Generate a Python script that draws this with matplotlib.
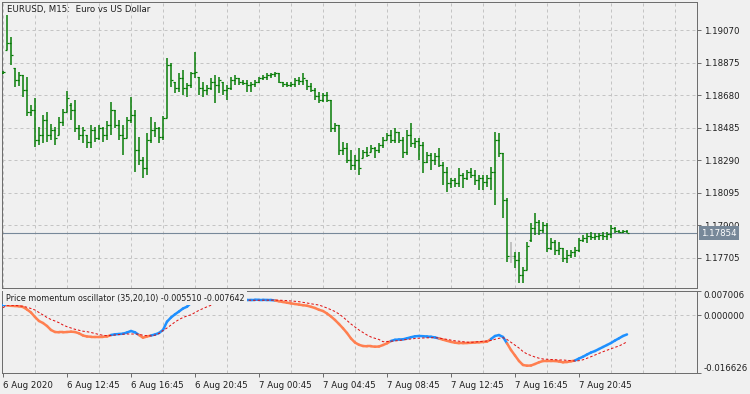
import numpy as np
import matplotlib
matplotlib.use('Agg')
import matplotlib.pyplot as plt
from matplotlib.collections import LineCollection

plt.rcParams['font.family'] = ['DejaVu Sans']
plt.rcParams['lines.scale_dashes'] = False

# ---------------- data ----------------
open_ = [1.18813, 1.18951, 1.18992, 1.18843, 1.18771, 1.18801, 1.18711, 1.18579, 1.18591, 1.18411,
         1.18441, 1.18531, 1.18441, 1.18471, 1.18441, 1.18519, 1.18579, 1.18621, 1.18591, 1.18483,
         1.18441, 1.18441, 1.18399, 1.18471, 1.18423, 1.18483, 1.18441, 1.18501, 1.18591, 1.18501,
         1.18441, 1.18423, 1.18531, 1.18561, 1.18352, 1.18292, 1.18244, 1.18411, 1.18471, 1.18483,
         1.18429, 1.18543, 1.18861, 1.18759, 1.18723, 1.18783, 1.18723, 1.18741, 1.18813, 1.18789,
         1.18723, 1.18711, 1.18723, 1.18759, 1.18741, 1.18759, 1.18711, 1.18723, 1.18771, 1.18783,
         1.18759, 1.18753, 1.18741, 1.18747, 1.18759, 1.18783, 1.18789, 1.18801, 1.18807, 1.18813,
         1.18759, 1.18747, 1.18741, 1.18747, 1.18771, 1.18765, 1.18771, 1.18735, 1.18711, 1.18675,
         1.18651, 1.18681, 1.18651, 1.18483, 1.18501, 1.18352, 1.18363, 1.18292, 1.18262, 1.18292,
         1.18304, 1.18340, 1.18340, 1.18363, 1.18352, 1.18381, 1.18411, 1.18441, 1.18411, 1.18459,
         1.18411, 1.18340, 1.18441, 1.18393, 1.18405, 1.18381, 1.18280, 1.18322, 1.18292, 1.18316,
         1.18262, 1.18220, 1.18154, 1.18172, 1.18154, 1.18202, 1.18184, 1.18220, 1.18202, 1.18172,
         1.18184, 1.18160, 1.18184, 1.18220, 1.18411, 1.18334, 1.18052, 1.17717, 1.17717, 1.17693,
         1.17603, 1.17633, 1.17812, 1.17884, 1.17920, 1.17872, 1.17902, 1.17764, 1.17800, 1.17753,
         1.17764, 1.17705, 1.17723, 1.17741, 1.17753, 1.17812, 1.17824, 1.17836, 1.17830, 1.17836,
         1.17842, 1.17836, 1.17848, 1.17884, 1.17866, 1.17860, 1.17866]
high = [1.18825, 1.19160, 1.19028, 1.18843, 1.18819, 1.18801, 1.18789, 1.18621, 1.18663, 1.18489,
        1.18561, 1.18579, 1.18507, 1.18489, 1.18549, 1.18597, 1.18705, 1.18633, 1.18651, 1.18501,
        1.18489, 1.18441, 1.18501, 1.18489, 1.18501, 1.18489, 1.18525, 1.18639, 1.18591, 1.18531,
        1.18501, 1.18549, 1.18669, 1.18591, 1.18429, 1.18310, 1.18453, 1.18549, 1.18519, 1.18489,
        1.18555, 1.18903, 1.18873, 1.18759, 1.18813, 1.18831, 1.18753, 1.18819, 1.18939, 1.18789,
        1.18759, 1.18741, 1.18783, 1.18801, 1.18789, 1.18759, 1.18741, 1.18789, 1.18801, 1.18783,
        1.18771, 1.18771, 1.18759, 1.18771, 1.18789, 1.18801, 1.18813, 1.18813, 1.18819, 1.18813,
        1.18759, 1.18759, 1.18759, 1.18783, 1.18789, 1.18813, 1.18771, 1.18753, 1.18723, 1.18699,
        1.18693, 1.18699, 1.18651, 1.18513, 1.18501, 1.18399, 1.18393, 1.18352, 1.18322, 1.18363,
        1.18352, 1.18369, 1.18381, 1.18369, 1.18393, 1.18429, 1.18453, 1.18471, 1.18483, 1.18459,
        1.18429, 1.18471, 1.18513, 1.18423, 1.18423, 1.18399, 1.18340, 1.18334, 1.18334, 1.18363,
        1.18280, 1.18250, 1.18184, 1.18184, 1.18244, 1.18214, 1.18232, 1.18244, 1.18232, 1.18202,
        1.18202, 1.18202, 1.18250, 1.18459, 1.18453, 1.18334, 1.18064, 1.17800, 1.17741, 1.17741,
        1.17651, 1.17800, 1.17914, 1.17974, 1.17932, 1.17920, 1.17914, 1.17824, 1.17812, 1.17800,
        1.17764, 1.17753, 1.17753, 1.17770, 1.17824, 1.17842, 1.17854, 1.17860, 1.17854, 1.17854,
        1.17860, 1.17860, 1.17902, 1.17890, 1.17872, 1.17872, 1.17872]
low = [1.18807, 1.18951, 1.18861, 1.18729, 1.18735, 1.18669, 1.18555, 1.18555, 1.18369, 1.18381,
       1.18393, 1.18399, 1.18411, 1.18381, 1.18441, 1.18495, 1.18579, 1.18531, 1.18459, 1.18411,
       1.18393, 1.18363, 1.18363, 1.18399, 1.18411, 1.18399, 1.18411, 1.18441, 1.18483, 1.18411,
       1.18322, 1.18423, 1.18513, 1.18220, 1.18262, 1.18184, 1.18202, 1.18393, 1.18429, 1.18393,
       1.18411, 1.18543, 1.18729, 1.18693, 1.18699, 1.18681, 1.18669, 1.18723, 1.18783, 1.18681,
       1.18669, 1.18681, 1.18711, 1.18633, 1.18693, 1.18681, 1.18651, 1.18711, 1.18741, 1.18741,
       1.18741, 1.18699, 1.18699, 1.18729, 1.18753, 1.18771, 1.18771, 1.18783, 1.18789, 1.18753,
       1.18729, 1.18729, 1.18729, 1.18729, 1.18741, 1.18741, 1.18711, 1.18699, 1.18651, 1.18633,
       1.18639, 1.18639, 1.18459, 1.18459, 1.18322, 1.18322, 1.18274, 1.18232, 1.18232, 1.18202,
       1.18304, 1.18310, 1.18340, 1.18304, 1.18334, 1.18363, 1.18411, 1.18393, 1.18393, 1.18393,
       1.18304, 1.18322, 1.18369, 1.18363, 1.18292, 1.18214, 1.18274, 1.18232, 1.18262, 1.18250,
       1.18142, 1.18100, 1.18124, 1.18130, 1.18130, 1.18124, 1.18172, 1.18184, 1.18142, 1.18112,
       1.18112, 1.18130, 1.18112, 1.18022, 1.18310, 1.17944, 1.17681, 1.17675, 1.17645, 1.17555,
       1.17555, 1.17633, 1.17800, 1.17842, 1.17842, 1.17854, 1.17741, 1.17753, 1.17723, 1.17723,
       1.17681, 1.17675, 1.17705, 1.17711, 1.17741, 1.17800, 1.17794, 1.17812, 1.17812, 1.17812,
       1.17812, 1.17812, 1.17824, 1.17854, 1.17854, 1.17854, 1.17854]
close = [1.18819, 1.18992, 1.18921, 1.18771, 1.18801, 1.18711, 1.18579, 1.18591, 1.18411, 1.18441,
         1.18531, 1.18441, 1.18471, 1.18423, 1.18519, 1.18579, 1.18663, 1.18591, 1.18483, 1.18441,
         1.18471, 1.18399, 1.18471, 1.18423, 1.18483, 1.18441, 1.18501, 1.18591, 1.18501, 1.18441,
         1.18423, 1.18531, 1.18561, 1.18352, 1.18292, 1.18244, 1.18411, 1.18471, 1.18483, 1.18429,
         1.18543, 1.18861, 1.18771, 1.18723, 1.18783, 1.18723, 1.18741, 1.18813, 1.18819, 1.18723,
         1.18711, 1.18723, 1.18759, 1.18741, 1.18771, 1.18711, 1.18723, 1.18771, 1.18783, 1.18759,
         1.18753, 1.18741, 1.18747, 1.18759, 1.18783, 1.18789, 1.18801, 1.18807, 1.18813, 1.18759,
         1.18747, 1.18741, 1.18747, 1.18771, 1.18765, 1.18783, 1.18735, 1.18711, 1.18675, 1.18651,
         1.18681, 1.18651, 1.18483, 1.18501, 1.18352, 1.18363, 1.18292, 1.18262, 1.18292, 1.18244,
         1.18340, 1.18322, 1.18363, 1.18352, 1.18381, 1.18411, 1.18441, 1.18411, 1.18459, 1.18411,
         1.18340, 1.18441, 1.18393, 1.18405, 1.18381, 1.18280, 1.18322, 1.18292, 1.18316, 1.18262,
         1.18220, 1.18154, 1.18172, 1.18154, 1.18202, 1.18184, 1.18220, 1.18202, 1.18172, 1.18184,
         1.18160, 1.18184, 1.18220, 1.18411, 1.18334, 1.18052, 1.17717, 1.17717, 1.17693, 1.17603,
         1.17633, 1.17776, 1.17884, 1.17920, 1.17872, 1.17902, 1.17764, 1.17800, 1.17753, 1.17764,
         1.17705, 1.17723, 1.17741, 1.17753, 1.17812, 1.17824, 1.17836, 1.17830, 1.17836, 1.17842,
         1.17836, 1.17848, 1.17884, 1.17866, 1.17860, 1.17866, 1.17854]

osc_main = [0.00283, 0.00283, 0.00274, 0.00268, 0.00260, 0.00240, 0.00167, 0.00081, -0.00049, -0.00164,
            -0.00222, -0.00308, -0.00423, -0.00481, -0.00490, -0.00490, -0.00481, -0.00472, -0.00481, -0.00519,
            -0.00582, -0.00611, -0.00617, -0.00617, -0.00617, -0.00617, -0.00611, -0.00568, -0.00547, -0.00539,
            -0.00530, -0.00495, -0.00452, -0.00490, -0.00568, -0.00645, -0.00611, -0.00582, -0.00553, -0.00510,
            -0.00423, -0.00184, -0.00063, 0.00029, 0.00110, 0.00196, 0.00248, 0.00355, 0.00412, 0.00441,
            0.00470, 0.00499, 0.00513, 0.00513, 0.00513, 0.00499, 0.00484, 0.00470, 0.00461, 0.00456,
            0.00450, 0.00450, 0.00450, 0.00450, 0.00447, 0.00447, 0.00441, 0.00441, 0.00427, 0.00404,
            0.00384, 0.00363, 0.00343, 0.00326, 0.00309, 0.00291, 0.00277, 0.00245, 0.00211, 0.00159,
            0.00124, 0.00052, -0.00034, -0.00135, -0.00251, -0.00374, -0.00510, -0.00668, -0.00784, -0.00850,
            -0.00885, -0.00893, -0.00893, -0.00905, -0.00899, -0.00856, -0.00807, -0.00740, -0.00706, -0.00697,
            -0.00691, -0.00663, -0.00631, -0.00605, -0.00596, -0.00602, -0.00611, -0.00619, -0.00637, -0.00668,
            -0.00703, -0.00735, -0.00766, -0.00789, -0.00804, -0.00804, -0.00798, -0.00792, -0.00784, -0.00778,
            -0.00769, -0.00761, -0.00683, -0.00596, -0.00568, -0.00625, -0.00807, -0.01000, -0.01158, -0.01317,
            -0.01432, -0.01452, -0.01447, -0.01403, -0.01354, -0.01317, -0.01317, -0.01317, -0.01317, -0.01331,
            -0.01354, -0.01346, -0.01325, -0.01302, -0.01245, -0.01193, -0.01130, -0.01072, -0.01029, -0.00971,
            -0.00913, -0.00856, -0.00798, -0.00726, -0.00663, -0.00596, -0.00551]
osc_signal = [0.00219, 0.00290, 0.00290, 0.00285, 0.00275, 0.00262, 0.00231, 0.00196, 0.00153, 0.00081,
              0.00009, -0.00063, -0.00121, -0.00164, -0.00213, -0.00279, -0.00328, -0.00366, -0.00403, -0.00432,
              -0.00458, -0.00472, -0.00495, -0.00524, -0.00553, -0.00576, -0.00588, -0.00582, -0.00568, -0.00553,
              -0.00544, -0.00539, -0.00539, -0.00539, -0.00544, -0.00576, -0.00588, -0.00591, -0.00573, -0.00524,
              -0.00438, -0.00366, -0.00279, -0.00193, -0.00121, -0.00063, -0.00020, 0.00015, 0.00081, 0.00144,
              0.00196, 0.00245, 0.00289, 0.00326, 0.00355, 0.00384, 0.00404, 0.00421, 0.00436, 0.00438,
              0.00436, 0.00433, 0.00433, 0.00433, 0.00433, 0.00436, 0.00436, 0.00438, 0.00438, 0.00436,
              0.00430, 0.00424, 0.00412, 0.00404, 0.00392, 0.00375, 0.00355, 0.00332, 0.00312, 0.00297,
              0.00254, 0.00211, 0.00162, 0.00110, 0.00038, -0.00049, -0.00150, -0.00251, -0.00337, -0.00423,
              -0.00495, -0.00568, -0.00625, -0.00663, -0.00697, -0.00761, -0.00755, -0.00746, -0.00740, -0.00726,
              -0.00712, -0.00697, -0.00683, -0.00668, -0.00660, -0.00654, -0.00648, -0.00645, -0.00645, -0.00654,
              -0.00674, -0.00691, -0.00717, -0.00735, -0.00746, -0.00761, -0.00775, -0.00778, -0.00769, -0.00761,
              -0.00749, -0.00740, -0.00726, -0.00691, -0.00663, -0.00645, -0.00697, -0.00778, -0.00856, -0.00942,
              -0.01043, -0.01115, -0.01158, -0.01202, -0.01236, -0.01259, -0.01268, -0.01274, -0.01279, -0.01288,
              -0.01288, -0.01297, -0.01308, -0.01317, -0.01308, -0.01282, -0.01239, -0.01193, -0.01144, -0.01095,
              -0.01049, -0.01006, -0.00962, -0.00922, -0.00885, -0.00827, -0.00764]

time_labels = ["6 Aug 2020", "6 Aug 12:45", "6 Aug 16:45", "6 Aug 20:45", "7 Aug 00:45",
               "7 Aug 04:45", "7 Aug 08:45", "7 Aug 12:45", "7 Aug 16:45", "7 Aug 20:45"]
price_ticks = [1.19070, 1.18875, 1.18680, 1.18485, 1.18290, 1.18095, 1.17900, 1.17705]
last_price = 1.17854
osc_ticks = [0.007006, 0.0, -0.016626]
osc_tick_labels = ["0.007006", "0.000000", "-0.016626"]
title = "EURUSD, M15:  Euro vs US Dollar"
osc_title = "Price momentum oscillator (35,20,10) -0.005510 -0.007642"

# ---------------- style ----------------
BG = '#F0F0F0'
SPINE = '#6E6E6E'
GRID = '#C4C4C4'
TXT = '#1E1E1E'
UP = '#027A02'
DOJI = '#B4B4B4'
BLUE = '#1E90FF'
ORANGE = '#FF7F50'
SIG = '#E01010'
PX = 0.72  # points per pixel at dpi 100
FS = 6.2

W, H = 750, 394
fig = plt.figure(figsize=(W / 100, H / 100), dpi=100, facecolor=BG)


def rect(l, t, r, b):
    return [l / W, 1 - b / H, (r - l) / W, (b - t) / H]


ax = fig.add_axes(rect(2, 2, 697, 288))
ax2 = fig.add_axes(rect(2, 291, 697, 373))

n = len(open_)
x = np.arange(n)
o = np.array(open_)
h = np.array(high)
l = np.array(low)
c = np.array(close)
bar_colors = [DOJI if np.isclose(oo, cc) else UP for oo, cc in zip(o, c)]

for a in (ax, ax2):
    a.set_facecolor(BG)
    a.set_xlim(-0.25, 173.5)
    for s in a.spines.values():
        s.set_color(SPINE)
        s.set_linewidth(1 * PX)
    a.yaxis.tick_right()
    a.set_xticks(np.arange(0, 174, 8), minor=True)
    a.grid(True, which='minor', axis='x', color=GRID, linewidth=1 * PX,
           linestyle=(0, (3 * PX, 3 * PX)))
    a.tick_params(axis='x', which='minor', length=0)
    a.tick_params(axis='y', direction='out', length=4 * PX, width=1 * PX,
                  colors=SPINE, labelcolor=TXT, labelsize=FS, pad=2)
    a.set_axisbelow(True)

# ---- main price panel ----
ax.set_ylim(1.17525, 1.19238)
ax.set_yticks(price_ticks)
ax.set_yticklabels([f"{p:.5f}" for p in price_ticks])
ax.grid(True, which='major', axis='y', color=GRID, linewidth=1 * PX,
        linestyle=(0, (3 * PX, 3 * PX)))
ax.set_xticks([])

ax.vlines(x, l, h, colors=bar_colors, linewidth=1.5 * PX, zorder=3)
ax.hlines(o, x - 0.4, x, colors=bar_colors, linewidth=1.2 * PX, zorder=3)
ax.hlines(c, x, x + 0.4, colors=bar_colors, linewidth=1.2 * PX, zorder=3)

ax.axhline(last_price, color='#778899', linewidth=1.1 * PX, zorder=2)
ax.text(1.006, last_price, f"{last_price:.5f}", transform=ax.get_yaxis_transform(),
        ha='left', va='center', fontsize=FS, color='white', clip_on=False, zorder=8,
        bbox=dict(boxstyle='square,pad=0.25', facecolor='#778899', edgecolor='none'))

ax.text(5 / 695, 1 - 3 / 286, title, transform=ax.transAxes, ha='left', va='top',
        fontsize=FS, color=TXT, zorder=6)

# ---- oscillator panel ----
ax2.set_ylim(osc_ticks[2], osc_ticks[0])
ax2.set_yticks(osc_ticks)
ax2.set_yticklabels(osc_tick_labels)
tl = ax2.get_yticklabels()
tl[0].set_va('top')
tl[2].set_va('bottom')
ax2.axhline(0, color=GRID, linewidth=1 * PX, linestyle=(0, (3 * PX, 3 * PX)), zorder=1)

ax2.set_xticks(np.arange(0, 16 * len(time_labels), 16))
ax2.set_xticklabels(time_labels, ha='left')
ax2.tick_params(axis='x', which='major', direction='out', length=4 * PX, width=1 * PX,
                colors=SPINE, labelcolor=TXT, labelsize=FS, pad=3)

m = np.array(osc_main)
s_ = np.array(osc_signal)
pts = np.column_stack([x, m])
segs = np.stack([pts[:-1], pts[1:]], axis=1)
seg_cols = [BLUE if m[i] > s_[i] else ORANGE for i in range(n - 1)]
lc = LineCollection(segs, colors=seg_cols, linewidths=2.5 * PX, capstyle='round',
                    joinstyle='round', zorder=3)
ax2.add_collection(lc)
ax2.plot(x, s_, color=SIG, linewidth=1 * PX, linestyle=(0, (2.5 * PX, 2 * PX)), zorder=4)

ax2.text(4 / 695, 1 - 2.5 / 82, osc_title, transform=ax2.transAxes,
         ha='left', va='top', fontsize=5.8, color=TXT, zorder=10,
         bbox=dict(boxstyle='square,pad=0.35', facecolor=BG, edgecolor='none'))

fig.savefig('out.png', dpi=100, facecolor=BG)
